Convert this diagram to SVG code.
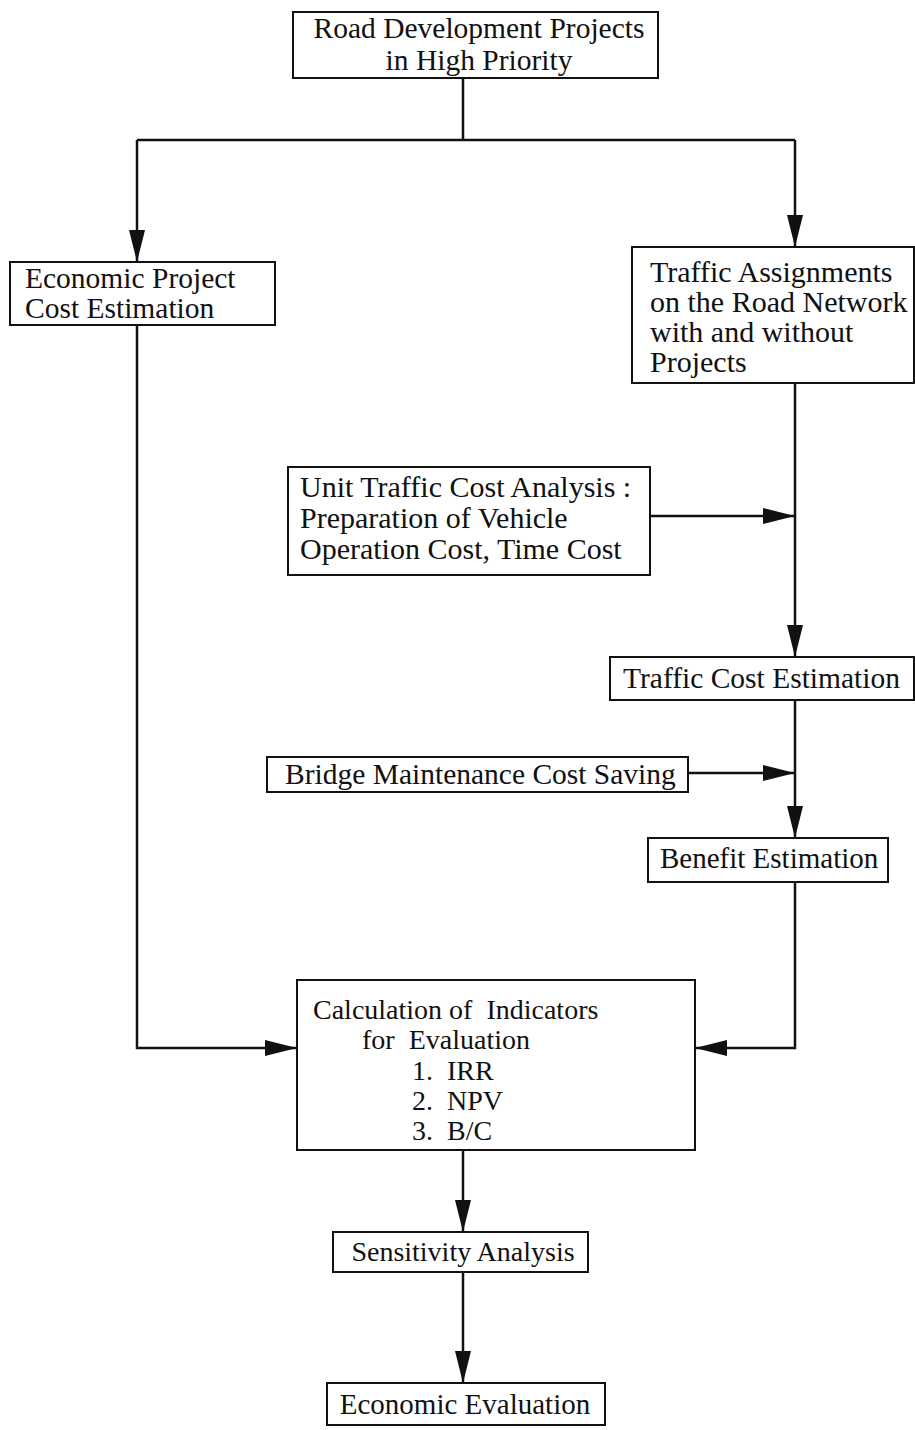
<svg xmlns="http://www.w3.org/2000/svg" width="915" height="1430" viewBox="0 0 915 1430">
<style>
.box{fill:#fff;stroke:#111;stroke-width:2}
.t{font-family:"Liberation Serif","Times New Roman",serif;font-size:29.5px;fill:#111}
.c{text-anchor:middle}
.ln{fill:none;stroke:#111;stroke-width:2.5}
.ar{fill:none;stroke:#111;stroke-width:2.5;marker-end:url(#ah)}
</style>
<defs>
<marker id="ah" markerUnits="userSpaceOnUse" viewBox="0 0 32 16" refX="32" refY="8" markerWidth="32" markerHeight="16" orient="auto">
<path d="M0,0 L32,8 L0,16 Z" fill="#111"/>
</marker>
</defs>
<rect width="915" height="1430" fill="#fff"/>
<g id="connectors">
<path class="ln" d="M463,78 V140 M137,140 H795"/>
<path class="ar" d="M137,140 V262"/>
<path class="ar" d="M795,140 V247"/>
<path class="ar" d="M137,325 V1048 H297"/>
<path class="ar" d="M795,383 V657"/>
<path class="ar" d="M650,516 H795"/>
<path class="ar" d="M795,700 V838"/>
<path class="ar" d="M688,773 H795"/>
<path class="ar" d="M795,882 V1048 H695"/>
<path class="ar" d="M463,1150 V1232"/>
<path class="ar" d="M463,1272 V1383"/>
</g>
<g id="n-road">
<rect class="box" x="293" y="12" width="365" height="66"/>
<text class="t c" x="479" y="38">Road Development Projects</text>
<text class="t c" x="479" y="70">in High Priority</text>
</g>
<g id="n-econcost">
<rect class="box" x="10" y="262" width="265" height="63"/>
<text class="t" x="25" y="288">Economic Project</text>
<text class="t" x="25" y="318">Cost Estimation</text>
</g>
<g id="n-traffic">
<rect class="box" x="632" y="247" width="282" height="136"/>
<text class="t" x="650" y="282" style="font-size:30px">Traffic Assignments</text>
<text class="t" x="650" y="312" style="font-size:30px">on the Road Network</text>
<text class="t" x="650" y="342" style="font-size:30px">with and without</text>
<text class="t" x="650" y="372" style="font-size:30px">Projects</text>
</g>
<g id="n-unit">
<rect class="box" x="288" y="467" width="362" height="108"/>
<text class="t" x="300" y="497" style="font-size:30px">Unit Traffic Cost Analysis :</text>
<text class="t" x="300" y="528" style="font-size:30px">Preparation of Vehicle</text>
<text class="t" x="300" y="559" style="font-size:30px">Operation Cost, Time Cost</text>
</g>
<g id="n-trafficcost">
<rect class="box" x="610" y="657" width="304" height="43"/>
<text class="t" x="623" y="688">Traffic Cost Estimation</text>
</g>
<g id="n-bridge">
<rect class="box" x="267" y="757" width="421" height="35"/>
<text class="t" x="285" y="784">Bridge Maintenance Cost Saving</text>
</g>
<g id="n-benefit">
<rect class="box" x="648" y="838" width="240" height="44"/>
<text class="t" x="660" y="868" style="font-size:29px">Benefit Estimation</text>
</g>
<g id="n-calc">
<rect class="box" x="297" y="980" width="398" height="170"/>
<text class="t" x="313" y="1019" style="font-size:28px" xml:space="preserve">Calculation of  Indicators</text>
<text class="t" x="362" y="1049" style="font-size:28px" xml:space="preserve">for  Evaluation</text>
<text class="t" y="1080" style="font-size:28px"><tspan x="412">1.</tspan><tspan x="447">IRR</tspan></text>
<text class="t" y="1110" style="font-size:28px"><tspan x="412">2.</tspan><tspan x="447">NPV</tspan></text>
<text class="t" y="1140" style="font-size:28px"><tspan x="412">3.</tspan><tspan x="447">B/C</tspan></text>
</g>
<g id="n-sens">
<rect class="box" x="333" y="1232" width="255" height="40"/>
<text class="t c" x="463" y="1261" style="font-size:28px">Sensitivity Analysis</text>
</g>
<g id="n-econeval">
<rect class="box" x="327" y="1383" width="278" height="42"/>
<text class="t c" x="465" y="1414" style="font-size:29px">Economic Evaluation</text>
</g>
</svg>
